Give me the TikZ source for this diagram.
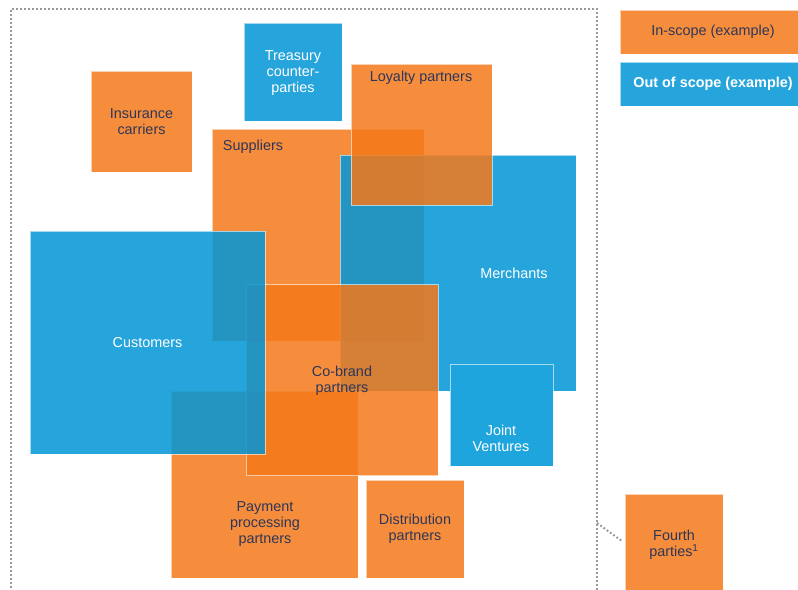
\documentclass[tikz,border=0pt]{standalone}
\usepackage{fontspec}
\setmainfont{Liberation Sans}
\usetikzlibrary{positioning}

\definecolor{scopeorange}{RGB}{244,121,26}
\definecolor{scopeblue}{RGB}{0,149,215}
\definecolor{scopebluesolid}{RGB}{30,165,221}
\definecolor{labeldark}{RGB}{45,54,88}

\begin{document}
\begin{tikzpicture}[
        x=0.75pt, y=-0.75pt,
        font=\fontsize{10.8}{12}\selectfont,
        % size of a box, in pixels of the sheet
        boxsize/.style 2 args={minimum width=#1*0.75pt, minimum height=#2*0.75pt},
        % base style for every party box
        party/.style={
            rectangle,
            inner sep=0pt,
            draw=white,
            draw opacity=0.6,
            line width=0.6pt,
            fill opacity=0.85,
            text opacity=1,
            align=center
        },
        % in-scope parties (orange)
        inscope/.style={party, fill=scopeorange, text=labeldark},
        % out-of-scope parties (blue)
        outscope/.style={party, fill=scopeblue, text=white},
        % blue box lying only on blue
        outsolid/.style={outscope, fill=scopebluesolid, fill opacity=1},
        % labels placed apart from their box
        darklbl/.style={text=labeldark, align=center, inner sep=0pt},
        lightlbl/.style={text=white, align=center, inner sep=0pt},
        % dotted boundary and its link
        boundary/.style={draw=gray!80, line width=1.5pt, dash pattern=on 1.4pt off 1.6pt, inner sep=0pt},
        link/.style={draw=gray!80, line width=1.5pt, dash pattern=on 1.4pt off 1.6pt}
    ]

    \useasboundingbox (0,0) rectangle (798,589);

    % Parties, back to front
    \node[inscope, boxsize={101}{101}] (ins) at (141.5,121.5) {Insurance\\carriers};
    \node[outscope, boxsize={98}{98}] (tre) at (293,72) {};
    \node[lightlbl] (trelbl) at (293,73.5) {Treasury\\counter-\\parties};

    \node[inscope, boxsize={212}{212}] (sup) at (318,235) {};
    \node[darklbl] (suplbl) at (253,147) {Suppliers};

    \node[outscope, boxsize={236}{236}] (mer) at (458,273) {};
    \node[lightlbl] (merlbl) at (514,273) {Merchants};

    \node[inscope, boxsize={141}{141}] (loy) at (421.5,134.5) {};
    \node[darklbl] (loylbl) at (421,78) {Loyalty partners};

    \node[inscope, boxsize={187}{187}] (pay) at (264.5,484.5) {};
    \node[darklbl] (paylbl) at (265,524) {Payment\\processing\\partners};

    \node[inscope, boxsize={192}{191}] (cob) at (342,380) {};
    \node[darklbl] (coblbl) at (342,381) {Co-brand\\partners};
    \node[outscope, boxsize={235}{223}] (cus) at (147.5,342.5) {Customers};

    \node[outsolid, boxsize={103}{102}] (jv) at (501.5,415) {};
    \node[lightlbl] (jvlbl) at (501,438) {Joint\\Ventures};

    \node[inscope, boxsize={98}{98}] (dis) at (415,529) {Distribution\\partners};

    % Dotted scope boundary
    \node[boundary, boxsize={586}{611}] (scope) at (304,314.5) {};

    % Fourth parties outside the boundary
    \node[inscope, boxsize={98}{98}] (fourth) at (674,543) {};
    \node[darklbl] (fourthlbl) at (674,545) {Fourth\\parties\textsuperscript{1}};
    \coordinate (scopeedge) at (597,523);
    \draw[link, shorten >=2pt] (scopeedge) -- (fourth.west);

    % Legend
    \node[inscope, boxsize={186}{44}] (legin) at (713,32) {In-scope (example)};
    \node[outscope, boxsize={186}{44}] (legout) at (713,84) {\textbf{Out of scope (example)}};

\end{tikzpicture}
\end{document}
